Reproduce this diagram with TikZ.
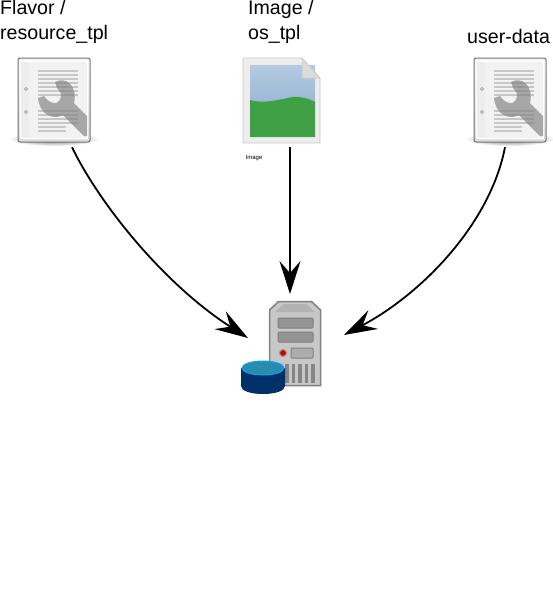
\documentclass[tikz,border=0pt]{standalone}
\usepackage{fontspec}
\setmainfont{Liberation Sans}
\usetikzlibrary{arrows.meta,positioning,shadings,fadings}
\definecolor{wrench}{RGB}{128,128,128}
\definecolor{sky}{RGB}{155,184,214}
\definecolor{grass}{RGB}{64,160,70}
\definecolor{disktop}{RGB}{40,140,175}
\definecolor{diskside}{RGB}{0,48,105}
\definecolor{diskrim}{RGB}{20,160,240}
\tikzset{
  title/.style={inner sep=0,anchor=north west,align=left,font=\fontsize{19.6}{25}\selectfont},
  iconbox/.style={inner sep=0,minimum width=72pt,minimum height=94pt},
  flow/.style={line width=1.8pt,-{Stealth[length=33pt,width=21pt,inset=12pt]}},
  pics/docicon/.style={code={
    \shade[inner color=black!60,outer color=white] (0,39) ellipse (45 and 7);
    \draw[black!55,line width=1pt,rounded corners=2pt,top color=black!3,bottom color=black!14] (-36,-42) rectangle (36,42);
    \fill[white,rounded corners=1pt] (-34,-39) rectangle (34,39);
    \fill[black!7] (-33,-38) rectangle (-25,38);
    \fill[black!5] (-25,-38) rectangle (33,38);
    \foreach \y in {-30,-26,...,-6,10,14,...,22}{\fill[black!22] (-16,\y) rectangle (24,\y+2);}
    \fill[black!22] (-16,26) rectangle (12,28);
    \fill[black!22] (-16,30) rectangle (12,32);
    \draw[black!50,line width=.5pt,fill=white] (-28,-11) circle (1.5) (-28,12) circle (1.5);
    \fill[wrench,opacity=.65] (1,-18) .. controls (12,-24) and (24,-14) .. (20,3) -- (33,16) -- (33,36) -- (30,36) -- (9,15)
      .. controls (0,20) and (-14,16) .. (-16,-2) -- (-10,-4) .. controls (-6,2) and (4,8) .. (7,-3) .. controls (8,-8) and (4,-10) .. (3,-12) -- cycle;
  }}
}
\begin{document}
\begin{tikzpicture}[x=1pt,y=-1pt]
\useasboundingbox (0,0) rectangle (553,606);
\node[title] (flavor) at (0,0) {Flavor /\\resource\_tpl};
\node[title] (image) at (248,0) {Image /\\os\_tpl};
\node[title] (userdata) at (467,29) {user-data};
% icons
\node[iconbox] (flavoricon) at (54,100) {};
\node[iconbox] (userdataicon) at (510,100) {};
\node[iconbox] (imageicon) at (281,100) {};
\pic at (flavoricon) {docicon};
\pic at (userdataicon) {docicon};
\fill[black!7,draw=black!22,line width=.8pt] (243,58) -- (302,58) -- (320,78) -- (320,143) -- (243,143) -- cycle;
\fill[top color=white!25!sky,bottom color=sky] (250,65) rectangle (315,103);
\fill[grass] (250,100) .. controls (262,104) and (278,100) .. (292,97) .. controls (300,96) and (310,99) .. (315,102) -- (315,137) -- (250,137) -- cycle;
\fill[black!14,draw=black!20,line width=.5pt] (302,58) -- (302,78) -- (320,78) -- cycle;
\node[inner sep=0,font=\fontsize{6}{7}\selectfont] (imagetext) at (254,158) {Image};
% server
\node[inner sep=0,minimum width=52pt,minimum height=85pt] (server) at (295,343.5) {};
\fill[black!22,draw=black!50,line width=1.5pt] (269.5,310) -- (278.5,301.5) -- (311.5,301.5) -- (320.5,310) -- (320.5,385.5) -- (269.5,385.5) -- cycle;
\fill[black!30] (275,312) -- (284,304) -- (306,304) -- (315,312) -- cycle;
\foreach \y in {318,332}{\fill[black!42,draw=black!50,line width=1pt,rounded corners=1pt] (278,\y) rectangle (313,\y+10);}
\fill[black!32,draw=black!50,line width=1pt,rounded corners=1pt] (291,348) rectangle (313,358);
\fill[red!80!black,draw=black!40,line width=1pt] (283,353) circle (3.5);
\foreach \x in {285,291.5,...,312}{\fill[black!48] (\x,364) rectangle (\x+3.8,383);}
\fill[diskside] (241,368) -- (241,386) .. controls (241,391) and (251,394) .. (263,394) .. controls (275,394) and (285,391) .. (285,386) -- (285,368) -- cycle;
\fill[disktop,draw=diskrim,line width=1pt] (263,368) ellipse (21 and 7);
% arrows
\coordinate (diskin) at (248,338);
\coordinate (serverin) at (290,294);
\coordinate (sidein) at (344,335);
\draw[flow] ([xshift=18pt]flavoricon.south) .. controls (100,205) and (165,285) .. (diskin);
\draw[flow] ([xshift=9pt]imageicon.south) -- (serverin);
\draw[flow] ([xshift=-5pt]userdataicon.south) .. controls (490,225) and (420,295) .. (sidein);
\end{tikzpicture}
\end{document}
